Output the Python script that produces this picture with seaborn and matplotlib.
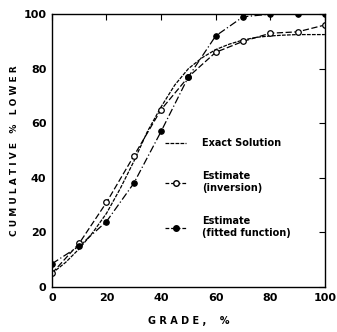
import matplotlib
matplotlib.use("Agg")
import matplotlib.pyplot as plt
import seaborn as sns
import pandas as pd
from matplotlib.lines import Line2D

# Exact solution curve (read values)
exact_grade = [0, 5, 10, 15, 20, 25, 30, 35, 40, 45, 50, 55, 60, 65, 70, 75, 80, 85, 90, 95, 100]
exact_val = [5, 9, 14, 20, 27, 36, 46, 57, 66, 74, 80, 84, 87, 89, 90.5, 91.5, 92, 92.3, 92.5, 92.5, 92.5]

# Estimate (inversion)
inv_grade = [0, 10, 20, 30, 40, 50, 60, 70, 80, 90, 100]
inv_val = [5, 16, 31, 48, 65, 77, 86, 90, 93, 93.5, 96]

# Estimate (fitted function)
fit_grade = [0, 10, 20, 30, 40, 50, 60, 70, 80, 90, 100]
fit_val = [8.5, 15, 24, 38, 57, 77, 92, 99, 100, 100, 100]

x_ticks = [0, 20, 40, 60, 80, 100]
y_ticks = [0, 20, 40, 60, 80, 100]

sns.set_style("white")
plt.rcParams['font.family'] = ['DejaVu Sans']
plt.rcParams['text.color'] = 'black'
plt.rcParams['axes.labelcolor'] = 'black'
plt.rcParams['xtick.color'] = 'black'
plt.rcParams['ytick.color'] = 'black'

fig = plt.figure(figsize=(3.37, 3.32), dpi=100)
ax = fig.add_axes([0.154, 0.1355, 0.81, 0.822])

df_exact = pd.DataFrame({"grade": exact_grade, "val": exact_val})
df_inv = pd.DataFrame({"grade": inv_grade, "val": inv_val})
df_fit = pd.DataFrame({"grade": fit_grade, "val": fit_val})

sns.lineplot(data=df_exact, x="grade", y="val", ax=ax, color="black", lw=0.9,
             linestyle=(0, (3, 1)))
sns.lineplot(data=df_inv, x="grade", y="val", ax=ax, color="black", lw=0.9,
             linestyle=(0, (5, 2)), marker="o", markersize=4,
             markerfacecolor="white", markeredgecolor="black", markeredgewidth=0.9)
sns.lineplot(data=df_fit, x="grade", y="val", ax=ax, color="black", lw=0.9,
             linestyle=(0, (6, 2, 1, 2)), marker="o", markersize=4,
             markerfacecolor="black", markeredgecolor="black")

ax.set_xlim(0, 100)
ax.set_ylim(0, 100)
ax.set_xticks(x_ticks)
ax.set_yticks(y_ticks)
ax.tick_params(direction="in", length=4, width=0.8, top=True, right=True,
               labeltop=False, labelright=False, labelsize=8, pad=4,
               colors="black")
for lab in ax.get_xticklabels() + ax.get_yticklabels():
    lab.set_fontweight("bold")
for sp in ax.spines.values():
    sp.set_color("black")
    sp.set_linewidth(1.0)
    sp.set_visible(True)

ax.set_xlabel("G R A D E ,    %", fontsize=7, fontweight="bold", labelpad=10, color="black")
ax.set_ylabel("C U M U L A T I V E   %   L O W E R", fontsize=6.5, fontweight="bold",
              labelpad=3, color="black")

handles = [
    Line2D([], [], color="black", lw=0.9, linestyle=(0, (3, 1))),
    Line2D([], [], color="black", lw=0.9, linestyle=(0, (3, 1.5)), marker="o",
           markersize=4, markerfacecolor="white", markeredgecolor="black"),
    Line2D([], [], color="black", lw=0.9, linestyle=(0, (3, 1.5)), marker="o",
           markersize=4, markerfacecolor="black", markeredgecolor="black"),
]
labels = ["Exact Solution", "Estimate\n(inversion)", "Estimate\n(fitted function)"]
leg = ax.legend(handles, labels, loc="upper left", bbox_to_anchor=(0.4, 0.56),
                frameon=False, fontsize=7, handlelength=2.2, labelspacing=2.4,
                handletextpad=1.6, borderaxespad=0)
for t in leg.get_texts():
    t.set_fontweight("bold")
    t.set_color("black")

fig.savefig("out.png", dpi=100)
